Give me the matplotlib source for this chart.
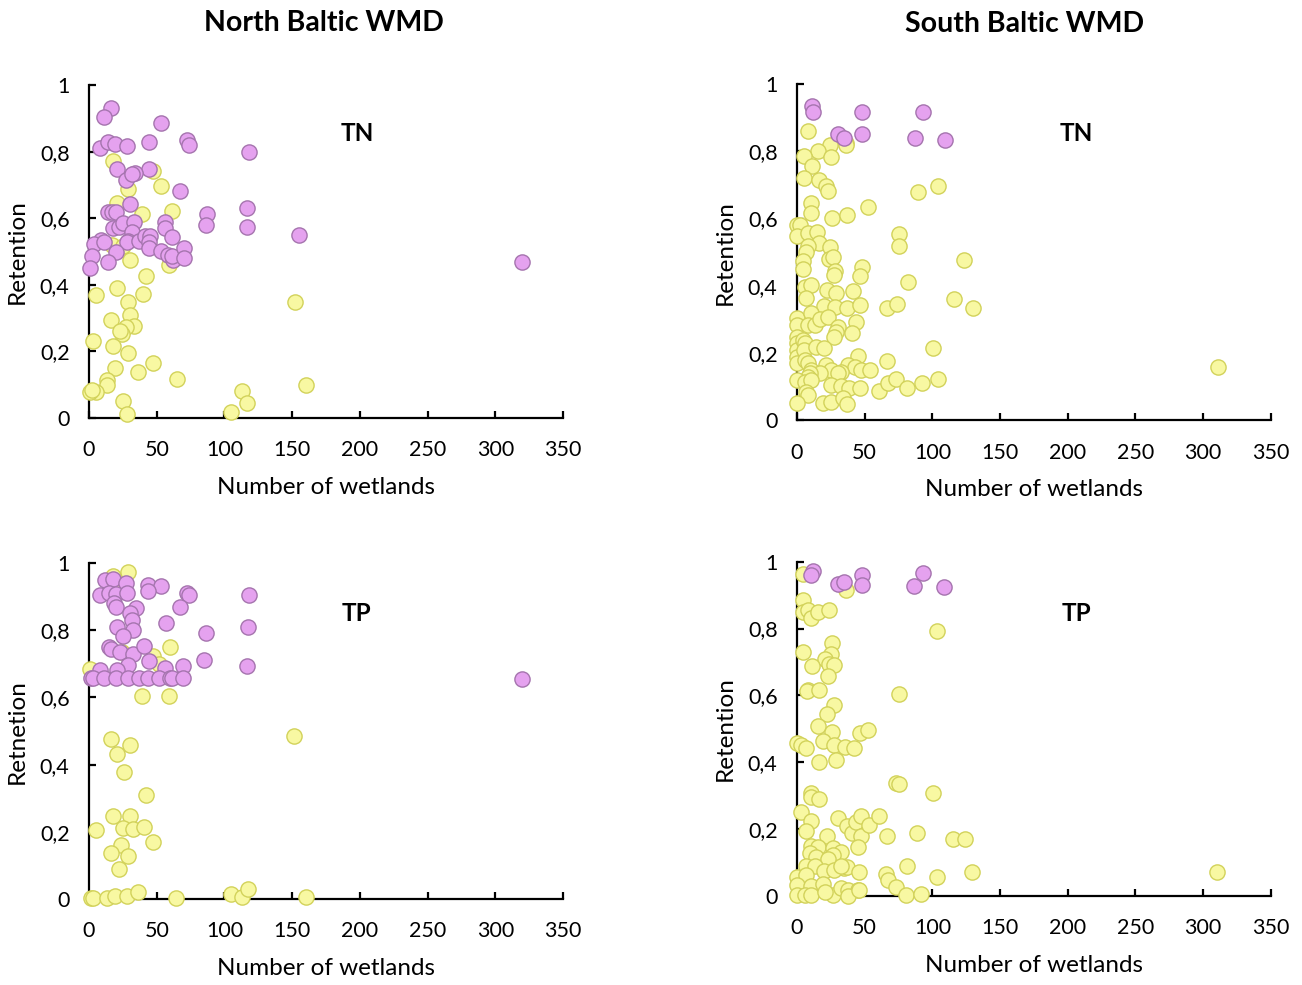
import matplotlib
matplotlib.use('Agg')
import matplotlib.pyplot as plt
from matplotlib.ticker import FuncFormatter

plt.rcParams['font.family'] = ['Lato', 'DejaVu Sans']

# North Baltic WMD - TN
north_tn_a_x = [16, 11, 53, 8, 14, 19, 28, 44, 72, 74, 118, 21, 44, 27, 34, 32, 67, 30, 14, 17,
                20, 87, 117, 117, 86, 155, 320, 56, 56, 61, 18, 22, 25, 33, 32, 29, 28, 37, 41, 45,
                44, 44, 53, 20, 9, 4, 2, 1, 14, 11, 58, 62, 61, 70, 70]
north_tn_a_y = [0.93, 0.905, 0.886, 0.812, 0.83, 0.824, 0.816, 0.83, 0.835, 0.82, 0.798, 0.748, 0.748,
                0.716, 0.736, 0.733, 0.681, 0.642, 0.619, 0.619, 0.619, 0.612, 0.631, 0.575, 0.581,
                0.549, 0.47, 0.59, 0.57, 0.545, 0.57, 0.573, 0.587, 0.59, 0.559, 0.532, 0.528, 0.532,
                0.547, 0.547, 0.53, 0.512, 0.503, 0.5, 0.534, 0.522, 0.488, 0.452, 0.469, 0.53, 0.49,
                0.475, 0.488, 0.51, 0.48]
north_tn_b_x = [17.5, 47.5, 53, 29, 21, 39, 61, 17, 25, 30, 59, 42, 21, 5, 40, 29, 30, 33, 27, 16,
                24, 23, 152, 3, 18, 29, 19, 47, 36, 65, 13, 13, 5, 1, 2, 25, 28, 113, 117, 160, 105]
north_tn_b_y = [0.773, 0.743, 0.698, 0.687, 0.647, 0.613, 0.623, 0.52, 0.518, 0.474, 0.46, 0.426,
                0.391, 0.37, 0.374, 0.348, 0.31, 0.276, 0.274, 0.293, 0.251, 0.261, 0.349, 0.232,
                0.216, 0.194, 0.149, 0.165, 0.139, 0.117, 0.113, 0.1, 0.078, 0.077, 0.083, 0.05,
                0.013, 0.082, 0.046, 0.098, 0.018]

# North Baltic WMD - TP
north_tp_a_x = [11.6, 17.7, 27, 43.5, 53, 43.5, 8, 15, 20, 28, 72, 74, 118, 18.5, 20, 67, 34.5, 30,
                32, 32.5, 21, 25, 56.6, 86.6, 117.3, 15, 16.5, 22.7, 32.5, 40.6, 44, 85, 56, 69.4,
                117, 29, 8, 21, 1.8, 3, 11, 20, 29, 36.7, 43.5, 52, 59.6, 61.5, 69.4, 320]
north_tp_a_y = [0.951, 0.954, 0.942, 0.934, 0.932, 0.916, 0.906, 0.912, 0.909, 0.912, 0.912, 0.906,
                0.906, 0.882, 0.87, 0.868, 0.867, 0.852, 0.83, 0.8, 0.81, 0.782, 0.822, 0.793, 0.81,
                0.751, 0.743, 0.736, 0.728, 0.754, 0.709, 0.713, 0.689, 0.693, 0.693, 0.696, 0.681,
                0.681, 0.658, 0.658, 0.658, 0.658, 0.658, 0.658, 0.658, 0.658, 0.658, 0.658, 0.658,
                0.655]
north_tp_b_x = [29, 18, 20, 0.5, 24, 47, 52, 60, 39, 59, 16, 30, 21, 26, 42, 18, 30, 5, 25, 32.5,
                40.6, 47, 23.4, 16, 29, 22, 1.8, 3, 13.3, 19.5, 28, 36, 64.5, 105, 113, 117.3, 160, 151]
north_tp_b_y = [0.974, 0.961, 0.94, 0.686, 0.736, 0.724, 0.701, 0.751, 0.604, 0.604, 0.475, 0.458,
                0.433, 0.379, 0.311, 0.247, 0.248, 0.205, 0.212, 0.207, 0.215, 0.17, 0.162, 0.136,
                0.129, 0.089, 0.004, 0.004, 0.004, 0.009, 0.009, 0.021, 0.002, 0.014, 0.005, 0.029,
                0.005, 0.485]

# South Baltic WMD - TN
south_tn_a_x = [11, 12, 48, 93, 30, 35, 48, 87, 109]
south_tn_a_y = [0.934, 0.917, 0.917, 0.917, 0.851, 0.841, 0.851, 0.84, 0.835]
south_tn_b_x = [8.1, 35.9, 35.9, 24.6, 15.5, 24.8, 5.2, 11.1, 5.2, 16.2, 21.7, 22.8, 89.2, 103.9,
                10.1, 10.1, 26.1, 36.8, 52.3, 0, 2.4, 0, 8.1, 15, 16, 8.1, 6.9, 24.1, 23.6, 26.5,
                4.4, 4.4, 75.2, 75.2, 123.6, 28.3, 27.3, 47.9, 46.9, 81.8, 5.7, 10.6, 6.9, 22.4,
                28.5, 41.3, 115.7, 129.7, 19.9, 27.8, 36.8, 46.2, 66.6, 73.7, 0, 0, 10.1, 8.1, 13.6,
                16.7, 22.8, 30.2, 29, 27.3, 43.8, 40.5, 0, 0, 0, 0, 0, 4.4, 6, 5, 6, 8, 14.3, 19.9,
                100.7, 45, 66.3, 37.6, 42.5, 47.5, 53.6, 21.7, 25.3, 32.7, 30.2, 10.6, 16.7, 9.4,
                8.1, 0, 5.7, 10.6, 25.3, 32.7, 38.8, 46.2, 6.9, 8.1, 60.9, 67.1, 73.2, 81.1, 92.1,
                103.9, 0, 19.2, 25.3, 33.9, 36.8, 311]
south_tn_b_y = [0.859, 0.825, 0.818, 0.82, 0.8, 0.783, 0.785, 0.756, 0.722, 0.716, 0.696, 0.681,
                0.678, 0.696, 0.647, 0.617, 0.602, 0.61, 0.635, 0.582, 0.582, 0.548, 0.558, 0.561,
                0.528, 0.518, 0.501, 0.516, 0.481, 0.486, 0.473, 0.449, 0.554, 0.519, 0.476, 0.445,
                0.432, 0.457, 0.429, 0.412, 0.397, 0.402, 0.363, 0.387, 0.38, 0.385, 0.36, 0.335,
                0.34, 0.338, 0.333, 0.343, 0.335, 0.346, 0.305, 0.283, 0.32, 0.285, 0.283, 0.3,
                0.308, 0.278, 0.263, 0.249, 0.293, 0.259, 0.249, 0.229, 0.209, 0.189, 0.17, 0.24,
                0.23, 0.21, 0.18, 0.17, 0.219, 0.216, 0.216, 0.191, 0.176, 0.165, 0.16, 0.15, 0.15,
                0.165, 0.15, 0.145, 0.14, 0.15, 0.14, 0.14, 0.13, 0.12, 0.115, 0.12, 0.105, 0.102,
                0.095, 0.095, 0.085, 0.075, 0.087, 0.112, 0.122, 0.095, 0.112, 0.122, 0.053, 0.053,
                0.056, 0.066, 0.049, 0.159]

# South Baltic WMD - TP
south_tp_a_x = [12, 10.6, 48, 93, 30, 35, 48, 86.5, 108.6]
south_tp_a_y = [0.972, 0.961, 0.961, 0.966, 0.933, 0.938, 0.931, 0.926, 0.924]
south_tp_b_x = [4.4, 36.3, 4.4, 4.4, 8.1, 10.6, 15.4, 24, 103.7, 26, 4.4, 25.3, 20.4, 24, 27.2, 11,
                22.8, 8.1, 7.6, 16.2, 75, 27.7, 22.4, 15.4, 26, 46.8, 52.7, 0, 3.2, 6.9, 19.6, 27.7,
                35.6, 41.9, 16.2, 29, 73.5, 75, 100.5, 10.1, 10.1, 16.2, 3.2, 10.6, 6.9, 30.1, 36.8,
                40.4, 43.7, 47.4, 47.4, 53.5, 60.8, 22.4, 66.5, 89, 115.4, 123.8, 44.9, 10.6, 15.4,
                9.3, 14.3, 26.5, 32.6, 26.5, 22.8, 81.6, 129.4, 103.7, 65.7, 66.9, 73.1, 80.9, 91.9,
                35.1, 36.8, 46.1, 6.9, 13, 19.9, 27.7, 32.6, 0, 6.4, 0, 10.6, 19.1, 0, 5.7, 10.6,
                26.5, 32.6, 37.5, 44.9, 37.5, 46.1, 20.4, 310]
south_tp_b_y = [0.963, 0.916, 0.886, 0.851, 0.856, 0.833, 0.851, 0.856, 0.794, 0.758, 0.731, 0.724,
                0.709, 0.694, 0.691, 0.688, 0.659, 0.617, 0.612, 0.617, 0.604, 0.572, 0.544, 0.509,
                0.492, 0.489, 0.497, 0.457, 0.452, 0.442, 0.464, 0.452, 0.445, 0.444, 0.402, 0.407,
                0.338, 0.335, 0.31, 0.308, 0.298, 0.291, 0.253, 0.225, 0.196, 0.235, 0.211, 0.19,
                0.221, 0.241, 0.181, 0.213, 0.241, 0.18, 0.181, 0.188, 0.171, 0.171, 0.146, 0.15,
                0.148, 0.128, 0.118, 0.143, 0.133, 0.123, 0.111, 0.089, 0.072, 0.059, 0.066, 0.049,
                0.027, 0.004, 0.007, 0.084, 0.087, 0.071, 0.089, 0.089, 0.076, 0.079, 0.089, 0.059,
                0.064, 0.034, 0.031, 0.037, 0.004, 0.004, 0.004, 0.004, 0.024, 0.019, 0.019, 0.0,
                0.019, 0.014, 0.073]

x_ticks = [0, 50, 100, 150, 200, 250, 300, 350]
y_ticks = [0, 0.2, 0.4, 0.6, 0.8, 1]

yellow_face, yellow_edge = '#F8F8A2', '#D2D25A'
purple_face, purple_edge = '#E5A2EF', '#A574AE'

fig = plt.figure(figsize=(13.02, 9.85), dpi=100)

panels = [
    ([0.0684, 0.5756, 0.364, 0.338], north_tn_a_x, north_tn_a_y, north_tn_b_x, north_tn_b_y,
     'TN', 'Retention', (0.565, 0.856)),
    ([0.0684, 0.0873, 0.364, 0.341], north_tp_a_x, north_tp_a_y, north_tp_b_x, north_tp_b_y,
     'TP', 'Retnetion', (0.565, 0.851)),
    ([0.6121, 0.5732, 0.364, 0.3415], south_tn_a_x, south_tn_a_y, south_tn_b_x, south_tn_b_y,
     'TN', 'Retention', (0.59, 0.853)),
    ([0.6121, 0.0901, 0.364, 0.3397], south_tp_a_x, south_tp_a_y, south_tp_b_x, south_tp_b_y,
     'TP', 'Retention', (0.59, 0.846)),
]

comma = FuncFormatter(lambda v, p: ('%g' % v).replace('.', ','))

for rect, ax_, ay_, bx_, by_, tag, ylab, tagpos in panels:
    ax = fig.add_axes(rect)
    ax.scatter(bx_, by_, s=120, c=yellow_face, edgecolors=yellow_edge, linewidths=1.0,
               zorder=3, clip_on=False)
    ax.scatter(ax_, ay_, s=120, c=purple_face, edgecolors=purple_edge, linewidths=1.0,
               zorder=4, clip_on=False)
    ax.set_xlim(0, 350)
    ax.set_ylim(0, 1)
    ax.set_xticks(x_ticks)
    ax.set_yticks(y_ticks)
    ax.yaxis.set_major_formatter(comma)
    for s in ['top', 'right']:
        ax.spines[s].set_visible(False)
    for s in ['left', 'bottom']:
        ax.spines[s].set_linewidth(1.6)
    ax.tick_params(direction='in', length=5, width=1.6, labelsize=15.5)
    ax.tick_params(axis='x', pad=16)
    ax.tick_params(axis='y', pad=14)
    ax.set_xlabel('Number of wetlands', fontsize=17.5, labelpad=12)
    ax.set_ylabel(ylab, fontsize=17.5, labelpad=9)
    ax.text(tagpos[0], tagpos[1], tag, transform=ax.transAxes, fontsize=17.5,
            fontweight='bold', ha='center', va='center')

fig.text(0.249, 0.977, 'North Baltic WMD', fontsize=20.5, fontweight='bold', ha='center', va='center')
fig.text(0.787, 0.976, 'South Baltic WMD', fontsize=20.5, fontweight='bold', ha='center', va='center')

fig.savefig('out.png', dpi=100)
